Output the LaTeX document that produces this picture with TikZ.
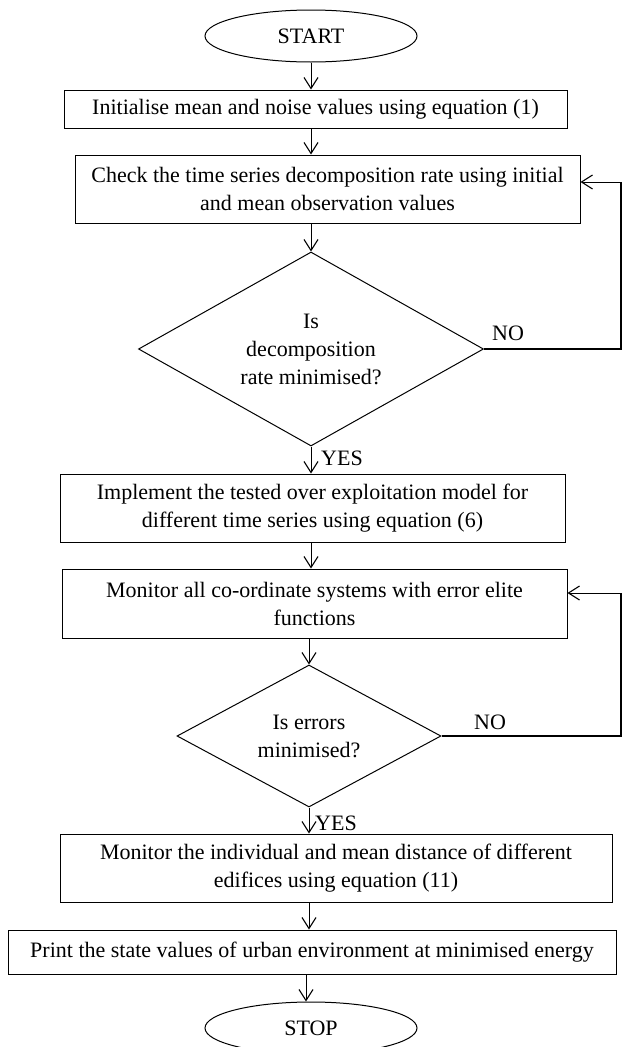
\documentclass[tikz,border=0pt]{standalone}
\usepackage{fontspec}
\setmainfont{Liberation Serif}
\usepackage{tikz}
\usetikzlibrary{shapes.geometric,arrows.meta,calc}

\begin{document}
\begin{tikzpicture}[x=1pt,y=-1pt,
		font=\fontsize{22}{28}\selectfont,
		box/.style={draw,line width=1pt,rectangle,inner sep=0pt,align=center},
		term/.style={draw,line width=1pt,ellipse,inner sep=0pt,minimum width=212pt,minimum height=52pt},
		decision/.style={draw,line width=1pt,diamond,aspect=1.8,inner sep=0pt,align=center},
		arr/.style={line width=1pt,-{Straight Barb[length=11pt,width=14pt,line width=1.1pt]}},
		back/.style={line width=1.6pt}]
		\useasboundingbox (0,0) rectangle (623,1047);
		% start and first steps
		\node[term] (start) at (311,36) {START};
		\node[box,minimum width=503pt,minimum height=38pt] (init) at (315.5,109) {Initialise mean and noise values using equation (1)};
		\node[box,minimum width=505pt,minimum height=68pt] (check) at (327.5,189) {Check the time series decomposition rate using initial\\and mean observation values};
		\node[decision,minimum width=345pt,minimum height=194pt] (dec1) at (311,349) {Is\\decomposition\\rate minimised?};
		\node (no1) at (508,333) {NO};
		\node (yes1) at (342,458) {YES};
		% second loop
		\node[box,minimum width=505pt,minimum height=68pt] (implement) at (312.5,508) {Implement the tested over exploitation model for\\different time series using equation (6)};
		\node[box,minimum width=505pt,minimum height=69pt] (monitor) at (314.5,603.5) {Monitor all co-ordinate systems with error elite\\functions};
		\node[decision,minimum width=264pt,minimum height=142pt] (dec2) at (309,736) {Is errors\\minimised?};
		\node (no2) at (490,722) {NO};
		\node (yes2) at (336,823) {YES};
		% last steps
		\node[box,minimum width=552pt,minimum height=68pt] (distance) at (336,868) {Monitor the individual and mean distance of different\\edifices using equation (11)};
		\node[box,minimum width=608pt,minimum height=44pt] (print) at (312,952) {Print the state values of urban environment at minimised energy};
		\node[term] (stop) at (311,1028) {STOP};
		\coordinate (c1) at (621,182);
		\coordinate (c2) at (621,593);

		\draw[arr] (start.south) -- (start |- init.north);
		\draw[arr] (start |- init.south) -- (start |- check.north);
		\draw[arr] (dec1 |- check.south) -- (dec1.north);
		\draw[arr] (dec1.south) -- (dec1 |- implement.north);
		\draw[arr] (dec1 |- implement.south) -- (dec1 |- monitor.north);
		\draw[arr] (dec2 |- monitor.south) -- (dec2.north);
		\draw[arr] (dec2.south) -- (dec2 |- distance.north);
		\draw[arr] (dec2 |- distance.south) -- (dec2 |- print.north);
		\draw[arr] ($(stop |- print.south)+(-5,0)$) -- ($(stop.north)+(-5,0)$);
		% NO branches
		\draw[back] (dec1.east) -| (c1);
		\draw[arr] (c1) -- (check.east |- c1);
		\draw[back] (dec2.east) -| (c2);
		\draw[arr] (c2) -- (monitor.east |- c2);
	\end{tikzpicture}
\end{document}
